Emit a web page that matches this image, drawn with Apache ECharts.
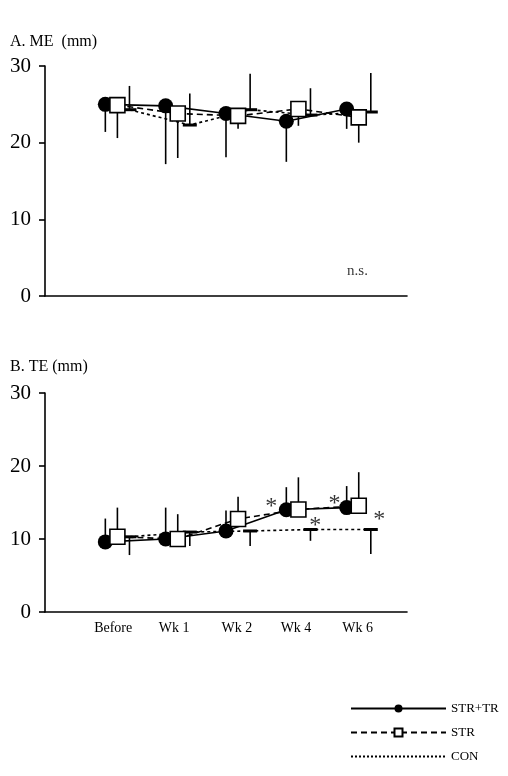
<!DOCTYPE html>
<html>
<head>
<meta charset="utf-8">
<script src="https://cdn.jsdelivr.net/npm/echarts@6/dist/echarts.min.js"></script>
<style>
  html, body { margin: 0; padding: 0; background: #fff; }
  #chart { width: 508px; height: 776px; }
</style>
</head>
<body>
<div id="chart"></div>
<script>
// categories and group names
var categories = ['Before', 'Wk 1', 'Wk 2', 'Wk 4', 'Wk 6'];
var groups = ['STR+TR', 'STR', 'CON'];
var yTicks = [0, 10, 20, 30];

// A. ME (mm) - means and SD
var meStrTr = [25.0, 24.8, 23.8, 22.8, 24.4];
var meStrTrSd = [3.6, 7.6, 5.7, 5.3, 2.6];
var meStr = [24.9, 23.8, 23.5, 24.4, 23.3];
var meStrSd = [4.3, 5.8, 1.7, 2.2, 3.3];
var meCon = [24.3, 22.3, 24.3, 23.6, 24.0];
var meConSd = [3.1, 4.1, 4.7, 3.5, 5.1];

// B. TE (mm) - means and SD
var teStrTr = [9.6, 10.0, 11.1, 14.0, 14.3];
var teStrTrSd = [3.2, 4.3, 2.8, 3.1, 2.95];
var teStr = [10.3, 10.0, 12.75, 14.05, 14.55];
var teStrSd = [4.0, 3.4, 3.05, 4.4, 4.6];
var teCon = [10.3, 10.95, 11.1, 11.3, 11.3];
var teConSd = [2.5, 1.9, 2.05, 1.55, 3.35];

// significance marks in panel B: [x position, y value]
var teStars = [[2.55, 14.4], [3.6, 14.8], [3.28, 11.8], [4.34, 12.6]];
var meNote = [[3.98, 3.2]];

var offsets = [-0.2, 0, 0.2];
var FONT = '"Liberation Serif", "Times New Roman", serif';

function pts(vals, k) {
    return vals.map(function (v, i) { return [i + offsets[k], v]; });
}
function bars(vals, sds, k, dir) {
    return vals.map(function (v, i) { return [i + offsets[k], v, v + dir * sds[i]]; });
}

function errSeries(data, gi) {
    return {
        type: 'custom',
        xAxisIndex: gi, yAxisIndex: gi,
        z: 1,
        silent: true,
        data: data,
        renderItem: function (params, api) {
            var p0 = api.coord([api.value(0), api.value(1)]);
            var p1 = api.coord([api.value(0), api.value(2)]);
            return {
                type: 'line',
                shape: {x1: p0[0], y1: p0[1], x2: p1[0], y2: p1[1]},
                style: {stroke: '#000', lineWidth: 1.6}
            };
        }
    };
}

var styles = [
    {symbol: 'circle', symbolSize: 15, itemStyle: {color: '#000'}, lineStyle: {color: '#000', width: 1.6, type: 'solid'}},
    {symbol: 'rect', symbolSize: 15, itemStyle: {color: '#fff', borderColor: '#000', borderWidth: 1.6}, lineStyle: {color: '#000', width: 1.6, type: [6, 4]}},
    {symbol: 'rect', symbolSize: [14, 3], itemStyle: {color: '#000'}, lineStyle: {color: '#000', width: 1.6, type: [3, 3]}}
];

function lineSeries(data, k, gi) {
    var s = styles[k];
    return {
        type: 'line',
        name: groups[k],
        xAxisIndex: gi, yAxisIndex: gi,
        z: 2 + (k === 1 ? 1 : 0),
        data: data,
        symbol: s.symbol,
        symbolSize: s.symbolSize,
        showAllSymbol: true,
        itemStyle: s.itemStyle,
        lineStyle: s.lineStyle,
        animation: false
    };
}

function textSeries(data, txt, size, gi) {
    return {
        type: 'scatter',
        xAxisIndex: gi, yAxisIndex: gi,
        symbolSize: 0,
        silent: true,
        data: data,
        label: {
            show: true, position: 'inside', formatter: txt,
            color: '#000', fontFamily: FONT, fontSize: size
        }
    };
}

function xAxis(gi, showLabels) {
    return {
        type: 'value', gridIndex: gi, min: -1.2, max: 4.8,
        axisLine: {onZero: false, lineStyle: {color: '#000', width: 1.6}},
        axisTick: {show: false},
        splitLine: {show: false},
        axisLabel: {
            show: showLabels,
            customValues: [-0.07, 0.94, 1.98, 2.96, 3.98],
            formatter: function (v) { return categories[Math.round(v)]; },
            color: '#000', fontFamily: FONT, fontSize: 14, margin: 9
        }
    };
}
function yAxis(gi) {
    return {
        type: 'value', gridIndex: gi, min: yTicks[0], max: yTicks[yTicks.length - 1], interval: 10,
        axisLine: {show: true, onZero: false, lineStyle: {color: '#000', width: 1.6}},
        axisTick: {show: true, length: 6, lineStyle: {color: '#000', width: 1.6}},
        splitLine: {show: false},
        axisLabel: {color: '#000', fontFamily: FONT, fontSize: 21, margin: 14}
    };
}

var chart = echarts.init(document.getElementById('chart'), null, {renderer: 'canvas'});
chart.setOption({
    animation: false,
    backgroundColor: '#fff',
    title: [
        {text: 'A. ME  (mm)', left: 5, top: 29, textStyle: {fontFamily: FONT, fontSize: 16, fontWeight: 'normal', color: '#000'}},
        {text: 'B. TE (mm)', left: 5, top: 354, textStyle: {fontFamily: FONT, fontSize: 16, fontWeight: 'normal', color: '#000'}}
    ],
    grid: [
        {left: 45, right: 101, top: 66, height: 230},
        {left: 45, right: 101, top: 393, height: 219}
    ],
    legend: {
        orient: 'vertical',
        left: 345, top: 697,
        itemWidth: 95, itemHeight: 10, itemGap: 11,
        textStyle: {fontFamily: FONT, fontSize: 13, color: '#000'},
        data: [
            {name: 'STR+TR'},
            {name: 'STR'},
            {name: 'CON', lineStyle: {type: 'dotted', width: 2}, itemStyle: {opacity: 0}}
        ]
    },
    xAxis: [xAxis(0, false), xAxis(1, true)],
    yAxis: [yAxis(0), yAxis(1)],
    series: [
        errSeries(bars(meStrTr, meStrTrSd, 0, -1), 0),
        errSeries(bars(meStr, meStrSd, 1, -1), 0),
        errSeries(bars(meCon, meConSd, 2, 1), 0),
        lineSeries(pts(meCon, 2), 2, 0),
        lineSeries(pts(meStrTr, 0), 0, 0),
        lineSeries(pts(meStr, 1), 1, 0),
        textSeries(meNote, 'n.s.', 15, 0),

        errSeries(bars(teStrTr, teStrTrSd, 0, 1), 1),
        errSeries(bars(teStr, teStrSd, 1, 1), 1),
        errSeries(bars(teCon, teConSd, 2, -1), 1),
        lineSeries(pts(teCon, 2), 2, 1),
        lineSeries(pts(teStrTr, 0), 0, 1),
        lineSeries(pts(teStr, 1), 1, 1),
        textSeries(teStars, '*', 24, 1)
    ]
});
</script>
</body>
</html>
